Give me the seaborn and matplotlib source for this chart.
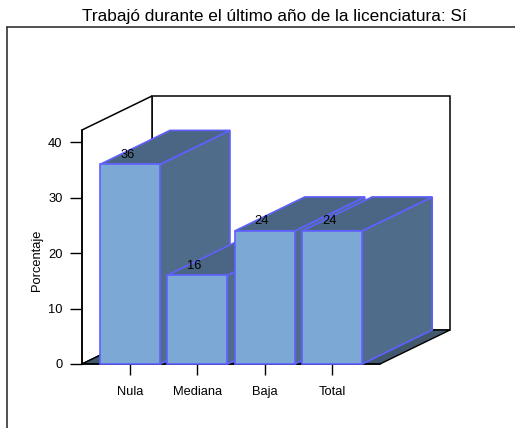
import numpy as np
import pandas as pd
import matplotlib
matplotlib.use("Agg")
import matplotlib.pyplot as plt
import seaborn as sns
from matplotlib.patches import Polygon
from matplotlib.lines import Line2D

categories = ["Nula", "Mediana", "Baja", "Total"]
values = [36, 16, 24, 24]
yticks = [0, 10, 20, 30, 40]
title = "Trabajó durante el último año de la licenciatura: Sí"
ylabel = "Porcentaje"

front = "#7BA8D5"
side = "#4F6C8A"
top = "#4A6684"
edge = "#6060FF"
floor_c = "#42586C"

W, H = 515, 428
sns.set_theme(style="white")
plt.rcParams['font.family'] = ['Liberation Sans', 'DejaVu Sans']
plt.rcParams['text.color'] = 'black'
plt.rcParams['axes.labelcolor'] = 'black'
plt.rcParams['xtick.color'] = 'black'
plt.rcParams['ytick.color'] = 'black'

fig = plt.figure(figsize=(W / 100, H / 100), dpi=100)
ax_l, ax_b, ax_r, ax_t = 82, 364, 380, 130
ax = fig.add_axes([ax_l / W, (H - ax_b) / H, (ax_r - ax_l) / W, (ax_b - ax_t) / H])
ax.patch.set_alpha(0)

df = pd.DataFrame({"cat": categories, "val": values})
sns.barplot(data=df, x="cat", y="val", color=front, saturation=1, width=0.89,
            edgecolor=edge, linewidth=1.2, ax=ax, zorder=10)

xmin, xmax = -0.712, 3.709
ymax = 42.2
ax.set_xlim(xmin, xmax)
ax.set_ylim(0, ymax)

px_x = (ax_r - ax_l) / (xmax - xmin)
px_y = (ax_b - ax_t) / ymax
dx = 70 / px_x
dy = 34 / px_y

# walls and floor
back_wall = Polygon([(xmin + dx, dy), (xmax + dx, dy), (xmax + dx, ymax + dy), (xmin + dx, ymax + dy)],
                    closed=True, facecolor="white", edgecolor="black", lw=1.1, clip_on=False, zorder=1)
left_wall = Polygon([(xmin, 0), (xmin + dx, dy), (xmin + dx, ymax + dy), (xmin, ymax)],
                    closed=True, facecolor="white", edgecolor="black", lw=1.1, clip_on=False, zorder=1.5)
floor = Polygon([(xmin, 0), (xmax, 0), (xmax + dx, dy), (xmin + dx, dy)],
                closed=True, facecolor=floor_c, edgecolor="black", lw=1.0, clip_on=False, zorder=2)
for p in (back_wall, left_wall, floor):
    ax.add_patch(p)

# 3D faces for each bar
for i, (p, v) in enumerate(zip(ax.patches[:len(values)], values)):
    x0, w, h = p.get_x(), p.get_width(), p.get_height()
    base = 10 + 3 * i
    sidep = Polygon([(x0 + w, 0), (x0 + w + dx, dy), (x0 + w + dx, h + dy), (x0 + w, h)],
                    closed=True, facecolor=side, edgecolor=edge, lw=1.2, clip_on=False, zorder=base)
    topp = Polygon([(x0, h), (x0 + w, h), (x0 + w + dx, h + dy), (x0 + dx, h + dy)],
                   closed=True, facecolor=top, edgecolor=edge, lw=1.2, clip_on=False, zorder=base + 1)
    ax.add_patch(sidep)
    ax.add_patch(topp)
    p.set_zorder(base + 2)
    p.set_clip_on(False)
    ax.annotate(f"{v:g}", xy=(x0 + w / 2, h), xytext=(-2, 7), textcoords="offset points",
                ha="center", va="center", fontsize=9.3, zorder=base + 2.5, annotation_clip=False)

for s in ("top", "right"):
    ax.spines[s].set_visible(False)
for s in ("left", "bottom"):
    ax.spines[s].set_color("black")
    ax.spines[s].set_linewidth(1.1)
    ax.spines[s].set_zorder(3)

ax.set_yticks(yticks)
ax.tick_params(axis="y", length=9, width=1.0, direction="out", pad=5, labelsize=9.3, left=True)
ax.tick_params(axis="x", length=8, width=1.0, direction="out", pad=8, labelsize=9.3, bottom=True)
ax.set_xlabel("")
ax.set_ylabel(ylabel, fontsize=9.3)
ax.yaxis.set_label_coords((43 - ax_l) / (ax_r - ax_l), (ax_b - 260) / (ax_b - ax_t))

fig.text(274 / W, 1 - 17 / H, title, ha="center", va="center", fontsize=12.4)

fig.add_artist(Line2D([7 / W, 7 / W], [0, 1 - 27 / H], transform=fig.transFigure, color="#333333", lw=1.2))
fig.add_artist(Line2D([7 / W, 1], [1 - 27 / H, 1 - 27 / H], transform=fig.transFigure, color="#333333", lw=1.2))

fig.savefig("out.png", dpi=100)
